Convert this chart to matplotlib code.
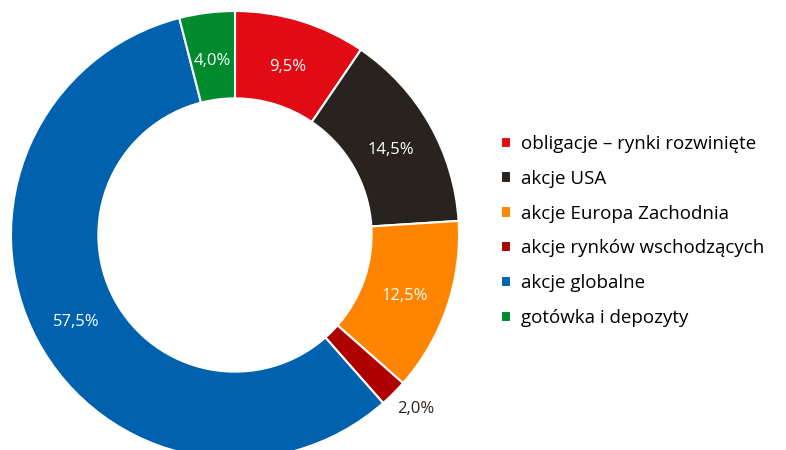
import matplotlib.pyplot as plt
import numpy as np

labels = ['obligacje – rynki rozwinięte', 'akcje USA', 'akcje Europa Zachodnia',
          'akcje rynków wschodzących', 'akcje globalne', 'gotówka i depozyty']
values = [9.5, 14.5, 12.5, 2.0, 57.5, 4.0]
value_text = ['9,5%', '14,5%', '12,5%', '2,0%', '57,5%', '4,0%']
colors = ['#E30B13', '#28231F', '#FF8500', '#AF0000', '#0062AE', '#008A2E']

plt.rcParams['font.family'] = ['Open Sans', 'DejaVu Sans']

fig = plt.figure(figsize=(7.86, 4.5), dpi=100)
# srodek koła (235, 235) px, promień 224 px
ax = fig.add_axes([11 / 786, -9 / 450, 448 / 786, 448 / 450])
wedges, _ = ax.pie(values, colors=colors, startangle=90, counterclock=False,
                   radius=1.0, wedgeprops=dict(width=0.39, edgecolor='white', linewidth=1.5))
ax.set_xlim(-1, 1)
ax.set_ylim(-1, 1)
ax.set_aspect('equal')
ax.axis('off')

cum = np.cumsum([0] + values[:-1])
for v, c, t in zip(values, cum, value_text):
    ang = np.deg2rad(90 - (c + v / 2) / 100 * 360)
    if v < 3:
        r = 1.1
        ax.text(r * np.cos(ang) + 0.03, r * np.sin(ang), t, ha='center', va='center',
                fontsize=12, color='#28231F')
    else:
        r = 0.8
        ax.text(r * np.cos(ang), r * np.sin(ang) - 0.015, t, ha='center', va='center',
                fontsize=12, color='white')

fig.legend(wedges, labels, loc='center left', bbox_to_anchor=(493 / 786, 1 - 231 / 450),
           frameon=False, fontsize=13.5, handlelength=0.55, handleheight=0.55,
           handletextpad=0.55, labelspacing=0.9, borderaxespad=0)

fig.savefig('out.png', dpi=100)
